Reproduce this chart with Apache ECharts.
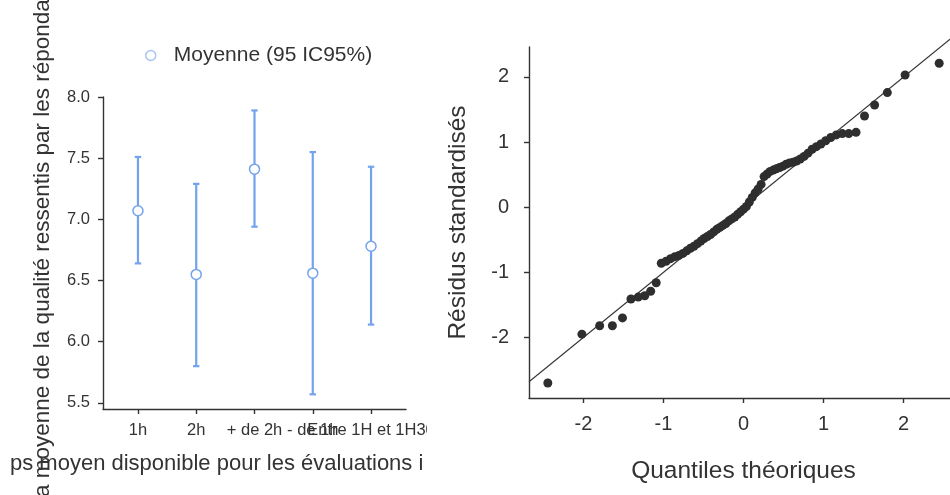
<!DOCTYPE html>
<html>
<head>
<meta charset="utf-8">
<script src="https://cdn.jsdelivr.net/npm/echarts@6/dist/echarts.min.js"></script>
<style>
  html, body { margin: 0; padding: 0; background: #fff; }
  #chart { width: 950px; height: 495px; }
</style>
</head>
<body>
<div id="chart"></div>
<script>
// Left panel: mean quality score per available time, with 95% CI
const categories = ['1h', '2h', '+ de 2h', '- de 1h', 'Entre 1H et 1H30'];
const means = [7.07, 6.55, 7.41, 6.56, 6.78];
const ciLower = [6.64, 5.80, 6.94, 5.57, 6.14];
const ciUpper = [7.51, 7.29, 7.89, 7.55, 7.43];
const meanTicks = [5.5, 6.0, 6.5, 7.0, 7.5, 8.0];

// Right panel: normal Q-Q plot of standardized residuals
const theoQuantiles = [
  -2.445, -2.019, -1.797, -1.638, -1.512, -1.406, -1.315, -1.234, -1.160, -1.091,
  -1.027, -0.967, -0.911, -0.857, -0.806, -0.757, -0.709, -0.663, -0.619, -0.575,
  -0.533, -0.492, -0.451, -0.411, -0.372, -0.333, -0.295, -0.257, -0.220, -0.183,
  -0.146, -0.109, -0.073, -0.036, 0.000, 0.036, 0.073, 0.109, 0.146, 0.183,
  0.220, 0.257, 0.295, 0.333, 0.372, 0.411, 0.451, 0.492, 0.533, 0.575,
  0.619, 0.663, 0.709, 0.757, 0.806, 0.857, 0.911, 0.967, 1.027, 1.091,
  1.160, 1.234, 1.315, 1.406, 1.512, 1.638, 1.797, 2.019, 2.445
];
const stdResiduals = [
  -2.70, -1.95, -1.82, -1.82, -1.70, -1.41, -1.38, -1.36, -1.29, -1.16,
  -0.86, -0.83, -0.79, -0.76, -0.74, -0.71, -0.67, -0.63, -0.60, -0.56,
  -0.52, -0.48, -0.45, -0.42, -0.38, -0.34, -0.31, -0.28, -0.25, -0.21,
  -0.18, -0.15, -0.11, -0.07, -0.03, 0.01, 0.08, 0.15, 0.22, 0.28,
  0.35, 0.47, 0.51, 0.55, 0.57, 0.59, 0.61, 0.63, 0.66, 0.68,
  0.69, 0.71, 0.74, 0.78, 0.83, 0.89, 0.93, 0.97, 1.02, 1.07,
  1.11, 1.13, 1.13, 1.15, 1.40, 1.57, 1.76, 2.03, 2.21
];
const qqTicks = [-2, -1, 0, 1, 2];
const refLine = [[-2.68, -2.68], [2.6, 2.6]];

const FONT = '"Liberation Sans", Arial, Helvetica, sans-serif';
const INK = '#333333';
const BLUE = '#74a2ec';
const catIdx = categories.map((_, i) => i);
// Labels are split over two stacked axes so neighbouring long labels are both kept
const catIdxEven = catIdx.filter(i => i % 2 === 0);
const catIdxOdd = catIdx.filter(i => i % 2 === 1);

const chart = echarts.init(document.getElementById('chart'), null, { renderer: 'canvas' });

const axisLineStyle = { show: true, onZero: false, lineStyle: { color: INK, width: 1.4 } };
const axisTickStyle = { show: true, length: 5, lineStyle: { color: INK, width: 1.4 } };
const catLabel = {
  margin: 13, fontSize: 16.5, color: INK, fontFamily: FONT,
  hideOverlap: false, showMinLabel: true, showMaxLabel: true,
  formatter: v => categories[Math.round(v)]
};

chart.setOption({
  animation: false,
  backgroundColor: '#fff',
  textStyle: { fontFamily: FONT },
  legend: {
    data: [{ name: 'Moyenne (95 IC95%)', icon: 'circle' }],
    left: 140,
    top: 40,
    itemWidth: 10,
    itemHeight: 10,
    itemStyle: { color: '#fff', borderColor: '#a7c4f3', borderWidth: 1.5 },
    textStyle: { fontFamily: FONT, fontSize: 21, color: INK, padding: [0, 0, 0, 13] }
  },
  grid: [
    { left: 103, top: 97, width: 303, height: 312 },
    { left: 529, top: 47, right: 0, height: 351 }
  ],
  xAxis: [
    {
      gridIndex: 0, type: 'value', min: -0.6, max: 4.6, position: 'bottom',
      axisLine: axisLineStyle,
      axisTick: Object.assign({ customValues: catIdx }, axisTickStyle),
      axisLabel: Object.assign({ customValues: catIdxEven }, catLabel),
      splitLine: { show: false }
    },
    {
      gridIndex: 1, type: 'value', min: -2.68, max: 2.58,
      axisLine: axisLineStyle,
      axisTick: Object.assign({ customValues: qqTicks }, axisTickStyle),
      axisLabel: { customValues: qqTicks, margin: 16, fontSize: 20, color: INK, fontFamily: FONT },
      splitLine: { show: false },
      name: 'Quantiles théoriques', nameLocation: 'middle', nameGap: 61,
      nameTextStyle: { fontSize: 24.5, color: INK, fontFamily: FONT, padding: [0, 0, 0, 8] }
    },
    {
      gridIndex: 0, type: 'value', min: -0.6, max: 4.6, position: 'bottom', offset: 0,
      axisLine: { show: false, onZero: false },
      axisTick: { show: false },
      axisLabel: Object.assign({ customValues: catIdxOdd }, catLabel),
      splitLine: { show: false }
    }
  ],
  yAxis: [
    {
      gridIndex: 0, type: 'value', min: 5.45, max: 8.0,
      axisLine: axisLineStyle,
      axisTick: Object.assign({ customValues: meanTicks }, axisTickStyle),
      axisLabel: {
        customValues: meanTicks, margin: 13, fontSize: 16.5, color: INK, fontFamily: FONT,
        formatter: v => v.toFixed(1)
      },
      splitLine: { show: false }
    },
    {
      gridIndex: 1, type: 'value', min: -2.93, max: 2.46,
      axisLine: axisLineStyle,
      axisTick: Object.assign({ customValues: qqTicks }, axisTickStyle),
      axisLabel: { customValues: qqTicks, margin: 20, fontSize: 20, color: INK, fontFamily: FONT },
      splitLine: { show: false },
      name: 'Résidus standardisés', nameLocation: 'middle', nameGap: 58, nameRotate: 90,
      nameTextStyle: { fontSize: 24.5, color: INK, fontFamily: FONT }
    }
  ],
  series: [
    {
      name: 'IC95',
      type: 'custom',
      xAxisIndex: 0, yAxisIndex: 0,
      data: categories.map((_, i) => [i, ciLower[i], ciUpper[i]]),
      renderItem: (params, api) => {
        const x = api.value(0);
        const lo = api.coord([x, api.value(1)]);
        const hi = api.coord([x, api.value(2)]);
        const cap = 3.2;
        const style = { stroke: BLUE, lineWidth: 2.2 };
        return {
          type: 'group',
          children: [
            { type: 'line', shape: { x1: lo[0], y1: lo[1], x2: hi[0], y2: hi[1] }, style },
            { type: 'line', shape: { x1: lo[0] - cap, y1: lo[1], x2: lo[0] + cap, y2: lo[1] }, style },
            { type: 'line', shape: { x1: hi[0] - cap, y1: hi[1], x2: hi[0] + cap, y2: hi[1] }, style }
          ]
        };
      },
      z: 2
    },
    {
      name: 'Moyenne (95 IC95%)',
      type: 'scatter',
      xAxisIndex: 0, yAxisIndex: 0,
      data: categories.map((_, i) => [i, means[i]]),
      symbol: 'circle',
      symbolSize: 10,
      itemStyle: { color: '#fff', borderColor: BLUE, borderWidth: 1.5, opacity: 1 },
      z: 3
    },
    {
      name: 'ref',
      type: 'line',
      xAxisIndex: 1, yAxisIndex: 1,
      data: refLine,
      showSymbol: false,
      clip: false,
      lineStyle: { color: INK, width: 1.1 },
      z: 2
    },
    {
      name: 'residus',
      type: 'scatter',
      xAxisIndex: 1, yAxisIndex: 1,
      data: theoQuantiles.map((q, i) => [q, stdResiduals[i]]),
      symbolSize: 9,
      itemStyle: { color: '#2e2e2e', opacity: 1 },
      z: 3
    }
  ],
  graphic: [
    {
      type: 'text', x: 43, y: 497, rotation: Math.PI / 2,
      style: {
        text: 'a moyenne de la qualité ressentis par les répondants',
        font: '22.5px ' + FONT, fill: INK, align: 'left', verticalAlign: 'middle'
      }
    },
    {
      type: 'text', x: 10, y: 464,
      style: {
        text: 'ps moyen disponible pour les évaluations i',
        font: '22px ' + FONT, fill: INK, align: 'left', verticalAlign: 'middle'
      }
    },
    {
      type: 'rect', z: 100,
      shape: { x: 427, y: 414, width: 26, height: 34 },
      style: { fill: '#fff' }
    }
  ]
});
</script>
</body>
</html>
